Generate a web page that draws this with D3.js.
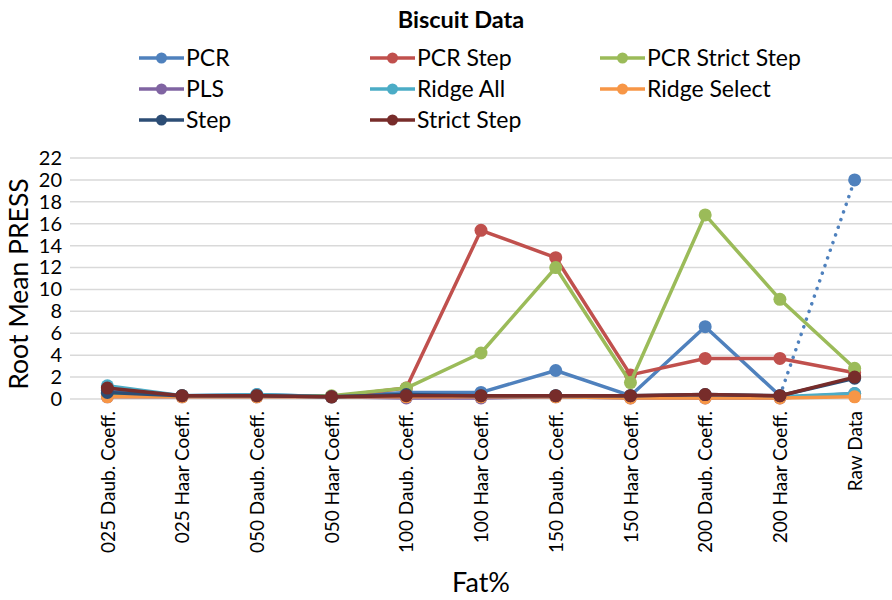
<!DOCTYPE html>
<html>
<head>
<meta charset="utf-8">
<script src="https://cdn.jsdelivr.net/npm/d3@7"></script>
<style>
  html, body { margin: 0; padding: 0; background: #fff; }
  text { font-family: Lato, "Open Sans", sans-serif; fill: #000; }
</style>
</head>
<body>
<svg id="chart" width="892" height="600"></svg>
<script>
// Wavelet / preprocessing variants on the x axis
const categories = [
  "025 Daub. Coeff.", "025 Haar Coeff.", "050 Daub. Coeff.", "050 Haar Coeff.",
  "100 Daub. Coeff.", "100 Haar Coeff.", "150 Daub. Coeff.", "150 Haar Coeff.",
  "200 Daub. Coeff.", "200 Haar Coeff.", "Raw Data"
];

// Root mean PRESS per method
const pcr            = [0.8, 0.3, 0.4, 0.2, 0.6, 0.6, 2.6, 0.3, 6.6, 0.3, 20.0];
const pcrStep        = [0.5, 0.3, 0.3, 0.2, 1.0, 15.4, 12.9, 2.2, 3.7, 3.7, 2.4];
const pcrStrictStep  = [0.5, 0.3, 0.3, 0.3, 1.0, 4.2, 12.0, 1.5, 16.8, 9.1, 2.8];
const pls            = [0.2, 0.2, 0.2, 0.2, 0.1, 0.1, 0.2, 0.1, 0.1, 0.1, 0.5];
const ridgeAll       = [1.2, 0.3, 0.4, 0.2, 0.3, 0.3, 0.3, 0.2, 0.3, 0.2, 0.5];
const ridgeSelect    = [0.2, 0.2, 0.2, 0.2, 0.2, 0.2, 0.2, 0.1, 0.1, 0.1, 0.2];
const step           = [0.6, 0.3, 0.3, 0.2, 0.4, 0.3, 0.3, 0.3, 0.4, 0.3, 1.9];
const strictStep     = [1.0, 0.3, 0.3, 0.2, 0.3, 0.3, 0.3, 0.3, 0.4, 0.3, 2.0];

const seriesNames  = ["PCR", "PCR Step", "PCR Strict Step", "PLS", "Ridge All", "Ridge Select", "Step", "Strict Step"];
const seriesValues = [pcr, pcrStep, pcrStrictStep, pls, ridgeAll, ridgeSelect, step, strictStep];
const seriesColors = ["#4F81BD", "#C0504D", "#9BBB59", "#8064A2", "#4BACC6", "#F79646", "#2C4D75", "#772C2A"];

const yTicks = [0, 2, 4, 6, 8, 10, 12, 14, 16, 18, 20, 22];

const svg = d3.select("#chart");
const plot = { left: 70, right: 892, top: 158, bottom: 399 };

const x = d3.scalePoint().domain(categories).range([plot.left, plot.right]).padding(0.5);
const y = d3.scaleLinear().domain([0, 22]).range([plot.bottom, plot.top]);

// Gridlines
svg.append("g")
  .selectAll("line").data(yTicks).join("line")
  .attr("x1", plot.left).attr("x2", plot.right)
  .attr("y1", d => y(d)).attr("y2", d => y(d))
  .attr("stroke", "#D9D9D9").attr("stroke-width", 1.5);

// Y axis labels
const yAxis = svg.append("g")
  .attr("transform", `translate(${plot.left},0)`)
  .call(d3.axisLeft(y).tickValues(yTicks).tickSize(0).tickPadding(8));
yAxis.select(".domain").remove();
yAxis.selectAll("text").style("font-size", "20px").style("font-family", "Lato, sans-serif").attr("fill", "#000");

// X axis labels, rotated
const xAxis = svg.append("g")
  .attr("transform", `translate(0,${plot.bottom})`)
  .call(d3.axisBottom(x).tickSize(0));
xAxis.select(".domain").remove();
xAxis.selectAll("text")
  .style("font-size", "19px").style("font-family", "Lato, sans-serif").attr("fill", "#000")
  .attr("transform", "rotate(-90)")
  .attr("x", -12).attr("y", 0).attr("dy", "0.35em")
  .attr("text-anchor", "end");

// Series lines and markers
const line = d3.line().x((d, i) => x(categories[i])).y(d => y(d));

seriesValues.forEach((vals, si) => {
  const g = svg.append("g");
  const color = seriesColors[si];
  if (seriesNames[si] === "PCR") {
    // last segment of PCR is drawn dotted
    const n = vals.length;
    g.append("path").attr("d", line(vals.slice(0, n - 1)))
      .attr("fill", "none").attr("stroke", color).attr("stroke-width", 3.5).attr("stroke-linejoin", "round");
    g.append("line")
      .attr("x1", x(categories[n - 2])).attr("y1", y(vals[n - 2]))
      .attr("x2", x(categories[n - 1])).attr("y2", y(vals[n - 1]))
      .attr("stroke", color).attr("stroke-width", 3.5)
      .attr("stroke-dasharray", "0.1 8").attr("stroke-linecap", "round");
  } else {
    g.append("path").attr("d", line(vals))
      .attr("fill", "none").attr("stroke", color).attr("stroke-width", 3.5).attr("stroke-linejoin", "round");
  }
  g.selectAll("circle").data(vals).join("circle")
    .attr("cx", (d, i) => x(categories[i])).attr("cy", d => y(d))
    .attr("r", 6.5).attr("fill", color);
});

// Title
svg.append("text").attr("x", 461).attr("y", 28).attr("text-anchor", "middle")
  .style("font-size", "23.5px").style("font-weight", "bold").text("Biscuit Data");

// Legend
const legendCols = [139, 370, 600];
const legendRows = [58, 89, 120];
seriesNames.forEach((name, i) => {
  const lx = legendCols[i % 3], ly = legendRows[Math.floor(i / 3)];
  const g = svg.append("g");
  g.append("line").attr("x1", lx).attr("x2", lx + 45).attr("y1", ly).attr("y2", ly)
    .attr("stroke", seriesColors[i]).attr("stroke-width", 3.5);
  g.append("circle").attr("cx", lx + 22.5).attr("cy", ly).attr("r", 5.5).attr("fill", seriesColors[i]);
  g.append("text").attr("x", lx + 47).attr("y", ly).attr("dy", "0.35em")
    .style("font-size", "23px").text(name);
});

// Axis titles
svg.append("text").attr("x", (plot.left + plot.right) / 2).attr("y", 592).attr("text-anchor", "middle")
  .style("font-size", "27px").text("Fat%");
svg.append("text").attr("transform", `translate(28,284) rotate(-90)`)
  .attr("text-anchor", "middle").style("font-size", "26.5px").text("Root Mean PRESS");
</script>
</body>
</html>
